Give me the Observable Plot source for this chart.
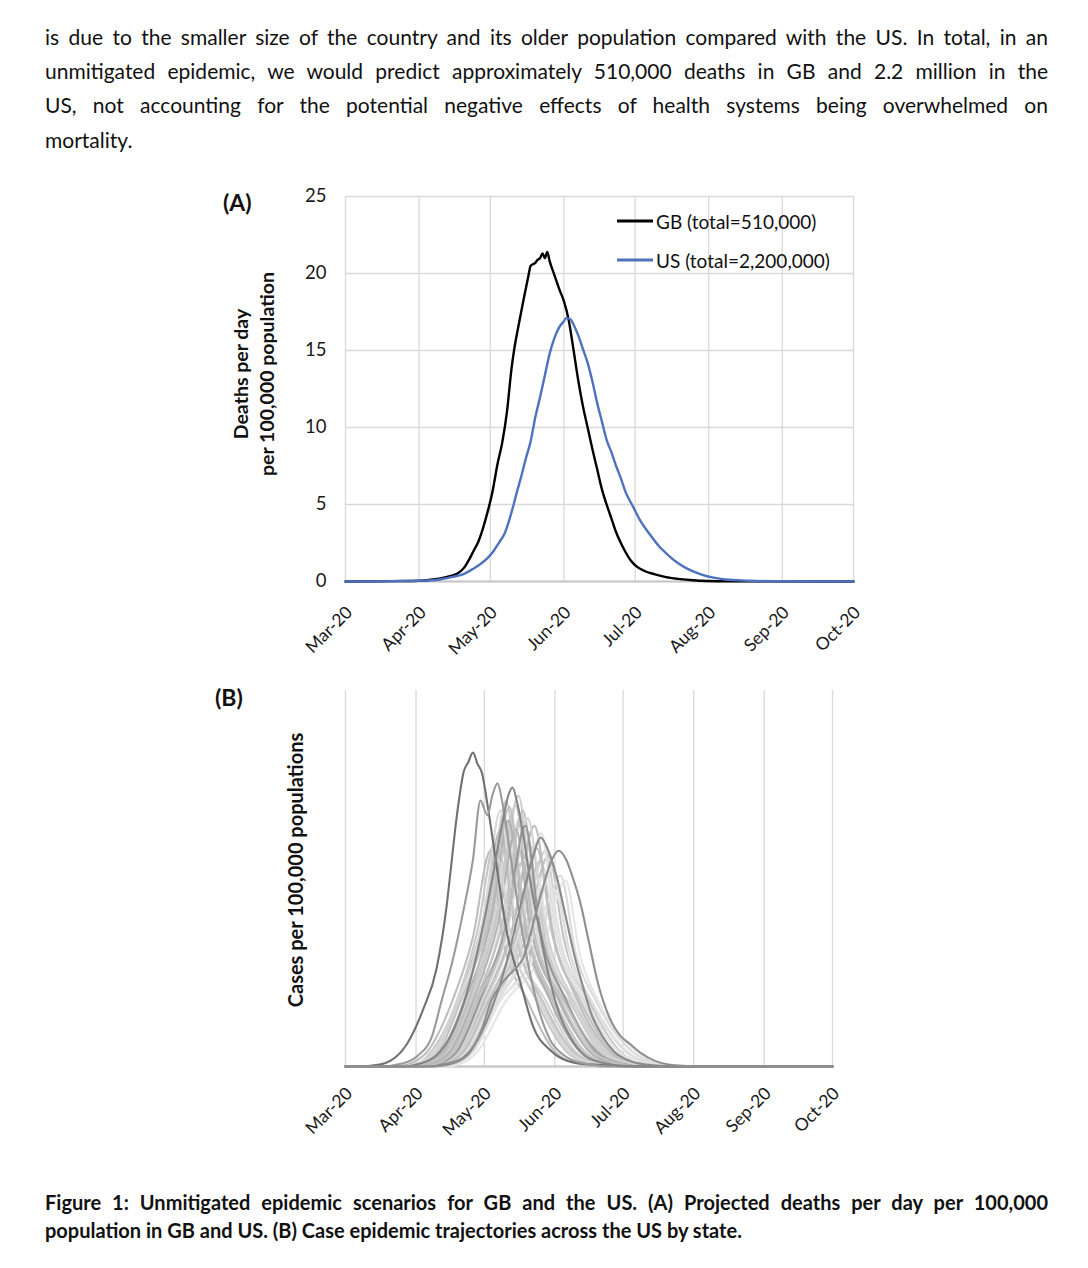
<!DOCTYPE html>
<html><head><meta charset="utf-8">
<script src="https://cdn.jsdelivr.net/npm/d3@7"></script>
<script src="https://cdn.jsdelivr.net/npm/@observablehq/plot@0.6"></script>
<style>
body{margin:0;background:#fff;width:1088px;height:1268px;position:relative;overflow:hidden;font-family:Lato,"Open Sans",sans-serif;color:#111}
.jl{position:absolute;left:45px;width:1003px;height:34px;line-height:34px;text-align:justify;text-align-last:justify}
.ll{position:absolute;left:45px;height:34px;line-height:34px;white-space:nowrap}
.cap{font-weight:bold;height:28px;line-height:28px}
.rot{position:absolute;transform:translate(-50%,-50%) rotate(-90deg);white-space:nowrap;font-weight:bold;font-size:19.5px;color:#111}
.panel{position:absolute;font-weight:bold;font-size:23px;transform:translateY(-50%)}
.leg{position:absolute;font-size:19px;white-space:nowrap;transform:translateY(-50%);display:flex;align-items:center;color:#111}
.leg span.sw{display:inline-block;width:36px;height:2.5px;margin-right:3px}
#chartA,#chartB{position:absolute;left:0}
</style></head><body>
<div class="jl para" style="top:20px">is due to the smaller size of the country and its older population compared with the US. In total, in an</div>
<div class="jl para" style="top:54px">unmitigated epidemic, we would predict approximately 510,000 deaths in GB and 2.2 million in the</div>
<div class="jl para" style="top:88px">US, not accounting for the potential negative effects of health systems being overwhelmed on</div>
<div class="ll para" style="top:123px">mortality.</div>

<div class="panel" style="left:223px;top:202px">(A)</div>
<div class="panel" style="left:215px;top:697px">(B)</div>
<div class="rot" style="left:240px;top:374px">Deaths per day</div>
<div class="rot" style="left:266px;top:374px">per 100,000 population</div>
<div class="rot" style="left:295px;top:870px;font-size:20px">Cases per 100,000 populations</div>

<div id="chartA" style="top:170px"></div>
<div id="chartB" style="top:671px"></div>

<div class="leg" style="left:617px;top:221px"><span class="sw" style="background:#000"></span><span id="legGB"></span></div>
<div class="leg" style="left:617px;top:260px"><span class="sw" style="background:#4f72be"></span><span id="legUS"></span></div>

<div class="jl cap capl" style="top:1188px">Figure 1: Unmitigated epidemic scenarios for GB and the US. (A) Projected deaths per day per 100,000</div>
<div class="ll cap capl" style="top:1216px">population in GB and US. (B) Case epidemic trajectories across the US by state.</div>

<script>
// ---------- data ----------
// day offsets are counted from 1 March 2020
const dayOrigin = "2020-03-01";
const monthTicks = ["2020-03-01","2020-04-01","2020-05-01","2020-06-01","2020-07-01","2020-08-01","2020-09-01","2020-10-01"];
const monthLabels = ["Mar-20","Apr-20","May-20","Jun-20","Jul-20","Aug-20","Sep-20","Oct-20"];
const aYTicks = [0,5,10,15,20,25];
const seriesNames = ["GB (total=510,000)","US (total=2,200,000)"];

const gbDays   = [0,15,25,31,36,40,44,47,50,52,54,56,58,60,62,64,66,68,70,71,73,75,77,78,80,81,82,83,84,85,86,88,90,92,94,96,98,100,102,104,106,108,110,112,114,116,118,120,123,126,130,135,140,145,150,160,175,214];
const gbValues = [0,0.02,0.03,0.05,0.12,0.2,0.35,0.5,0.9,1.4,2.0,2.6,3.5,4.6,5.9,7.6,9.0,11.0,13.9,15.0,16.7,18.3,19.8,20.5,20.7,20.9,21.0,21.3,21.0,21.4,20.8,19.9,19.0,18.2,17.0,15.1,13.1,11.4,10.0,8.6,7.3,6.0,5.0,4.1,3.2,2.5,1.9,1.4,0.93,0.68,0.48,0.28,0.17,0.1,0.05,0.02,0.01,0];

const usDays   = [0,20,31,38,41,45,50,54,57,60,62,65,67,69,71,72,74,76,78,80,82,84,86,88,90,92,93,95,96,98,100,102,104,106,108,110,112,114,116,118,121,124,128,132,136,140,145,150,155,160,170,180,214];
const usValues = [0,0.02,0.05,0.1,0.17,0.3,0.5,0.85,1.15,1.55,1.9,2.6,3.1,4.0,5.1,5.7,6.8,8.0,9.1,10.7,12.0,13.4,14.8,15.8,16.5,16.9,17.1,17.0,16.7,16.0,15.1,14.2,13.0,11.6,10.4,9.2,8.4,7.5,6.7,5.8,4.9,4.0,3.1,2.3,1.7,1.2,0.75,0.45,0.25,0.13,0.05,0.02,0];

// Panel B: state case trajectories (arbitrary units, no y labels in the source)
const stateDays = [
 [0,28,36,42,52,63,70.7,76,90,103,113,125,214],
 [0,30,39,45,55,67,74.7,81,94,108,117,128,214],
 [0,33,42,48,58,69,76.9,83,96,110,119,130,214],
 [0,30,38,44,54,65,72.5,79,92,105,114,126,214],
 [0,33,42,48,59,71,79.1,86,99,112,121,132,214],
 [0,26,34,40,50,60,68.1,74,87,100,109,120,214],
 [0,36,45,51,62,73,81.3,88,101,115,124,135,214],
 [0,40,49,55,66,78,87.9,94,106,120,129,140,214],
 [0,40,48,54,65,79,89.2,96,107,121,130,142,214],
 [0,32,40,46,57,69,76.9,83,95,108,117,128,214],
 [0,25,33,38,49,58,65.9,72,84,97,106,118,214],
 [0,38,47,53,64,75,83.5,90,101,116,126,138,214],
 [0,42,50,56,68,84,94.5,101,110,126,136,148,214],
 [0,44,52,58,70,86,96.7,103,111,128,138,150,214],
 [0,32,41,47,58,67,74.7,81,92,105,114,126,214],
 [0,28,37,43,54,63,70.3,76,88,101,110,122,214],
 [0,22,30,36,47,56,63.7,69,80,92,101,112,214],
 [0,30,39,45,55,68,76,82,95,108,117,128,214],
 [0,28,37,43,53,64,71.6,78,90,103,112,124,214],
 [0,38,46,52,63,76,85.7,92,104,118,128,140,214],
 [0,42,50,56,68,80,90,97,105,120,130,142,214],
 [0,36,45,51,63,73,81.3,88,98,112,122,134,214],
 [0,32,41,47,57,70,78,84,97,111,120,132,214],
 [0,26,34,40,50,61,68,74,86,99,109,120,214],
 [0,36,44,50,61,74,83,90,102,116,125,137,214],
 [0,42,50,56,68,82,92,99,108,124,134,146,214],
 [0,30,38,44,54,65,73,80,92,105,114,126,214],
 [0,34,43,49,59,70,78.5,85,97,110,120,131,214],
 [0,27,35,41,51,61,69,75,87,100,110,121,214],
 [0,37,46,52,63,74,82,89,100,114,124,136,214],
 [0,38,47,53,64,77,86,92,104,118,128,139,214],
 [0,31,40,46,56,67,75,81,94,107,117,128,214],
 [0,35,44,50,60,72,80,87,100,113,123,134,214],
 [0,40,49,55,66,79,88,95,106,120,130,141,214],
 [0,29,38,44,54,64,72,78,91,104,114,125,214],
 [0,25,33,39,49,59,67,73,85,98,108,119,214],
 [0,38,46,52,63,75,84,91,103,117,127,138,214],
 [0,34,43,49,59,71,79,85,97,110,120,131,214],
 [0,42,50,56,67,81,91,98,108,123,133,144,214],
 [0,33,42,48,58,69,77,84,96,109,119,130,214],
 [0,5,15,20,27,34,40,44.5,46,49,52,54,56,58,60,62.3,66,71,77,82.6,90,100,115,135,214],
 [0,15,25,32,38,42,47,52,56,59.3,62.4,64.5,66.8,69,72,76,80,85,90,96,105,118,214],
 [0,25,33,40,46,52,57,62,66,69,71.5,73.4,75.5,78,81,85,89,94,99,105,113,125,214],
 [0,35,45,52,58,64,70,75,79,82.5,85.7,88,90,93,96,100,104,108,113,118,125,135,145,214],
 [0,38,48,55,60,64,68.5,73.8,78.2,82,86,90,93.6,97,100,103,107,111,116,121,125,130,136,145,155,214]
];
const stateValues = [
 [0,0,1.2,4,17.5,42.4,70.7,42.4,17.5,4,1,0,0],
 [0,0,1.1,4,18,41.6,69.4,41.6,17,4,1,0,0],
 [0,0,1.2,4,17,40.1,66.8,40.1,18,4.2,1,0,0],
 [0,0,1.3,4,17.5,39.2,65.4,39.2,17.5,4,1,0,0],
 [0,0,1.2,3.8,17.5,37.7,62.8,37.7,17.5,4,1.1,0,0],
 [0,0,1.2,4,18,37.7,62.8,37.7,16.5,4,1,0,0],
 [0,0,1,4,17.5,35.3,58.8,35.3,17.5,4,1,0,0],
 [0,0,1.2,4,17,34.4,57.4,34.4,18,4,1,0,0],
 [0,0,1.2,4,17.5,33.7,56.1,33.7,17.5,3.8,1,0,0],
 [0,0,1.1,4,17.5,34.4,57.4,34.4,17,4,1,0,0],
 [0,0,1.2,4.2,17.5,36.1,60.1,36.1,17.5,4,1,0,0],
 [0,0,1.2,4,17,31.3,52.1,31.3,17.5,4,1,0,0],
 [0,0,1.2,4,17.5,30.5,50.8,30.5,17.5,4,1,0,0],
 [0,0,1.1,4,17,29.7,49.5,29.7,17.5,4,1,0,0],
 [0,0,1.2,4,17.5,29.7,49.5,29.7,17,4,1,0,0],
 [0,0,1.2,4,17.5,32.9,54.8,32.9,17.5,4,1,0,0],
 [0,0,1.2,4,17.5,34.4,57.4,34.4,17.5,4,1,0,0],
 [0,0,1.2,4,17.5,43.2,72,43.2,17.5,4,1,0,0],
 [0,0,1.2,4,18,39.2,65.4,39.2,17.5,4,1,0,0],
 [0,0,1.2,4,17.5,32.9,54.8,32.9,17.5,4,1,0,0],
 [0,0,1.2,4,17.5,26.4,44,26.4,17.5,4,1,0,0],
 [0,0,1.2,4,17.5,26.4,44,26.4,17.5,4,1,0,0],
 [0,0,1.2,4,17.5,40.8,68,40.8,17.5,4,1,0,0],
 [0,0,1.2,4,17.5,40.8,68,40.8,17.5,4,1,0,0],
 [0,0,1.2,4,17.5,38.4,64,38.4,17.5,4,1,0,0],
 [0,0,1.2,4,17.5,28.2,47,28.2,17.5,4,1,0,0],
 [0,0,1.2,4,17.5,36,60,36,17.5,4,1,0,0],
 [0,0,1.2,4,17,33,55,33,17.5,4,1,0,0],
 [0,0,1.2,4,18,34.8,58,34.8,17,4,1,0,0],
 [0,0,1.2,4,17.5,30,50,30,17.5,4,1,0,0],
 [0,0,1.2,4,17.5,37.2,62,37.2,17.5,4,1,0,0],
 [0,0,1.2,4,17.5,37.8,63,37.8,17.5,4,1,0,0],
 [0,0,1.2,4,17.5,39.6,66,39.6,17.5,4,1,0,0],
 [0,0,1.2,4,17.5,31.2,52,31.2,17.5,4,1,0,0],
 [0,0,1.2,4,17.5,41.4,69,41.4,17.5,4,1,0,0],
 [0,0,1.2,4,17.5,33,55,33,17.5,4,1,0,0],
 [0,0,1.2,4,17.5,34.8,58,34.8,17.5,4,1,0,0],
 [0,0,1.2,4,17.5,38.4,64,38.4,17.5,4,1,0,0],
 [0,0,1.2,4,17.5,31.8,53,31.8,17.5,4,1,0,0],
 [0,0,1.2,4,17.5,32.4,54,32.4,17.5,4,1,0,0],
 [0,0,0.5,1.6,6,15,26,43,51,67,78.5,81,83.5,80.5,78,70,55,35.4,22,10.4,4.3,1.1,0.3,0,0],
 [0,0,0.8,3,8,17,28,42,55,70.7,66.8,72,75.3,70,58,42,28,15,7,3,0.8,0,0],
 [0,0,0.8,3,8,17,28,42,55,65,72,74.2,70,62,50,37,25,14,7.5,3,1,0,0],
 [0,0,0.8,2.5,7,15,26,38,48,56,60.9,59,56,50,42,31,22,14,8,4,1.5,0.3,0,0],
 [0,0,1,4,10,17.5,22,25.5,29,37,46,54,57.4,55,50,44,33,22,13,8,6,3.5,1.5,0.3,0,0]
];

// ---------- styles ----------
const stateShades = ["#cccccc","#c4c4c4","#dedede","#c6c6c6","#cfcfcf","#bababa","#d6d6d6","#d4d4d4","#c2c2c2","#b4b4b4","#c8c8c8","#e3e3e3","#dadada","#e6e6e6","#cbcbcb","#d2d2d2","#bebebe","#cdcdcd","#b0b0b0","#c7c7c7","#dcdcdc","#d0d0d0","#c3c3c3","#d8d8d8","#bdbdbd","#e8e8e8",
  "#c9c9c9","#d9d9d9","#c5c5c5","#cacaca","#e0e0e0","#b3b3b3","#d3d3d3","#e4e4e4","#bfbfbf","#d5d5d5","#c1c1c1","#979797","#dddddd","#c0c0c0",
  "#707070","#9a9a9a","#858585","#8a8a8a","#8f8f8f"];
const gridColor = "#d9d9d9";
const gbColor = "#000000", usColor = "#4f72be";

// ---------- helpers ----------
const t0 = new Date(dayOrigin).getTime();
const toDate = d => new Date(t0 + d * 864e5);
const monthDates = monthTicks.map(s => new Date(s));
const labelMap = new Map(monthDates.map((d, i) => [+d, monthLabels[i]]));
const fmtMonth = d => labelMap.get(+d) ?? "";

document.getElementById("legGB").textContent = seriesNames[0];
document.getElementById("legUS").textContent = seriesNames[1];

const gbData = gbDays.map((d, i) => ({date: toDate(d), value: gbValues[i]}));
const usData = usDays.map((d, i) => ({date: toDate(d), value: usValues[i]}));

const baseStyle = {fontFamily: "Lato, sans-serif", fontSize: "18px", color: "#1a1a1a", background: "transparent", overflow: "visible"};

const chartA = Plot.plot({
  width: 1088, height: 500,
  marginLeft: 345, marginRight: 235, marginTop: 26, marginBottom: 89,
  style: baseStyle,
  x: {type: "utc", domain: [toDate(0), toDate(214)], label: null},
  y: {domain: [0, 25], label: null},
  marks: [
    Plot.gridX(monthDates, {stroke: gridColor, strokeOpacity: 1, strokeWidth: 1.3}),
    Plot.gridY(aYTicks, {stroke: gridColor, strokeOpacity: 1, strokeWidth: 1.3}),
    Plot.ruleY([0], {stroke: "#c6c6c6", strokeWidth: 1.8}),
    Plot.axisY(aYTicks, {tickSize: 0, tickPadding: 19, fontSize: 18.5, label: null}),
    Plot.axisX(monthDates, {tickSize: 0, tickPadding: 28, tickRotate: -45, fontSize: 17.5, tickFormat: fmtMonth, label: null, dx: 4}),
    Plot.line(gbData, {x: "date", y: "value", stroke: gbColor, strokeWidth: 2.4, curve: "monotone-x"}),
    Plot.line(usData, {x: "date", y: "value", stroke: usColor, strokeWidth: 2.4, curve: "monotone-x"})
  ]
});
document.getElementById("chartA").appendChild(chartA);

const stateMarks = stateDays.map((days, i) =>
  Plot.line(days.map((d, j) => ({date: toDate(d), value: stateValues[i][j]})),
    {x: "date", y: "value", stroke: stateShades[i], strokeWidth: 2.1, curve: "monotone-x"}));

const chartB = Plot.plot({
  width: 1088, height: 485,
  marginLeft: 345, marginRight: 256, marginTop: 19, marginBottom: 90,
  style: baseStyle,
  x: {type: "utc", domain: [toDate(0), toDate(214)], label: null},
  y: {domain: [0, 100], label: null, axis: null},
  marks: [
    Plot.gridX(monthDates, {stroke: gridColor, strokeOpacity: 1, strokeWidth: 1.3}),
    Plot.ruleY([0], {stroke: "#c8c8c8", strokeWidth: 2.5}),
    Plot.axisX(monthDates, {tickSize: 0, tickPadding: 24, tickRotate: -45, fontSize: 17.5, tickFormat: fmtMonth, label: null, dx: 4}),
    ...stateMarks
  ]
});
document.getElementById("chartB").appendChild(chartB);

// fit justified text blocks to the column width
function fit(cls, start, target) {
  const els = [...document.querySelectorAll(cls)];
  const m = document.createElement("span");
  m.style.cssText = "position:absolute;visibility:hidden;white-space:nowrap;left:0;top:0";
  document.body.appendChild(m);
  let fs = start;
  for (; fs > 10; fs -= 0.25) {
    let ok = true;
    for (const el of els) {
      const cs = getComputedStyle(el);
      m.style.fontFamily = cs.fontFamily; m.style.fontWeight = cs.fontWeight;
      m.style.fontSize = fs + "px"; m.textContent = el.textContent;
      if (m.getBoundingClientRect().width > target) { ok = false; break; }
    }
    if (ok) break;
  }
  els.forEach(e => e.style.fontSize = fs + "px");
  m.remove();
}
fit(".para", 21, 995);
fit(".capl", 20, 995);
</script>
</body></html>
